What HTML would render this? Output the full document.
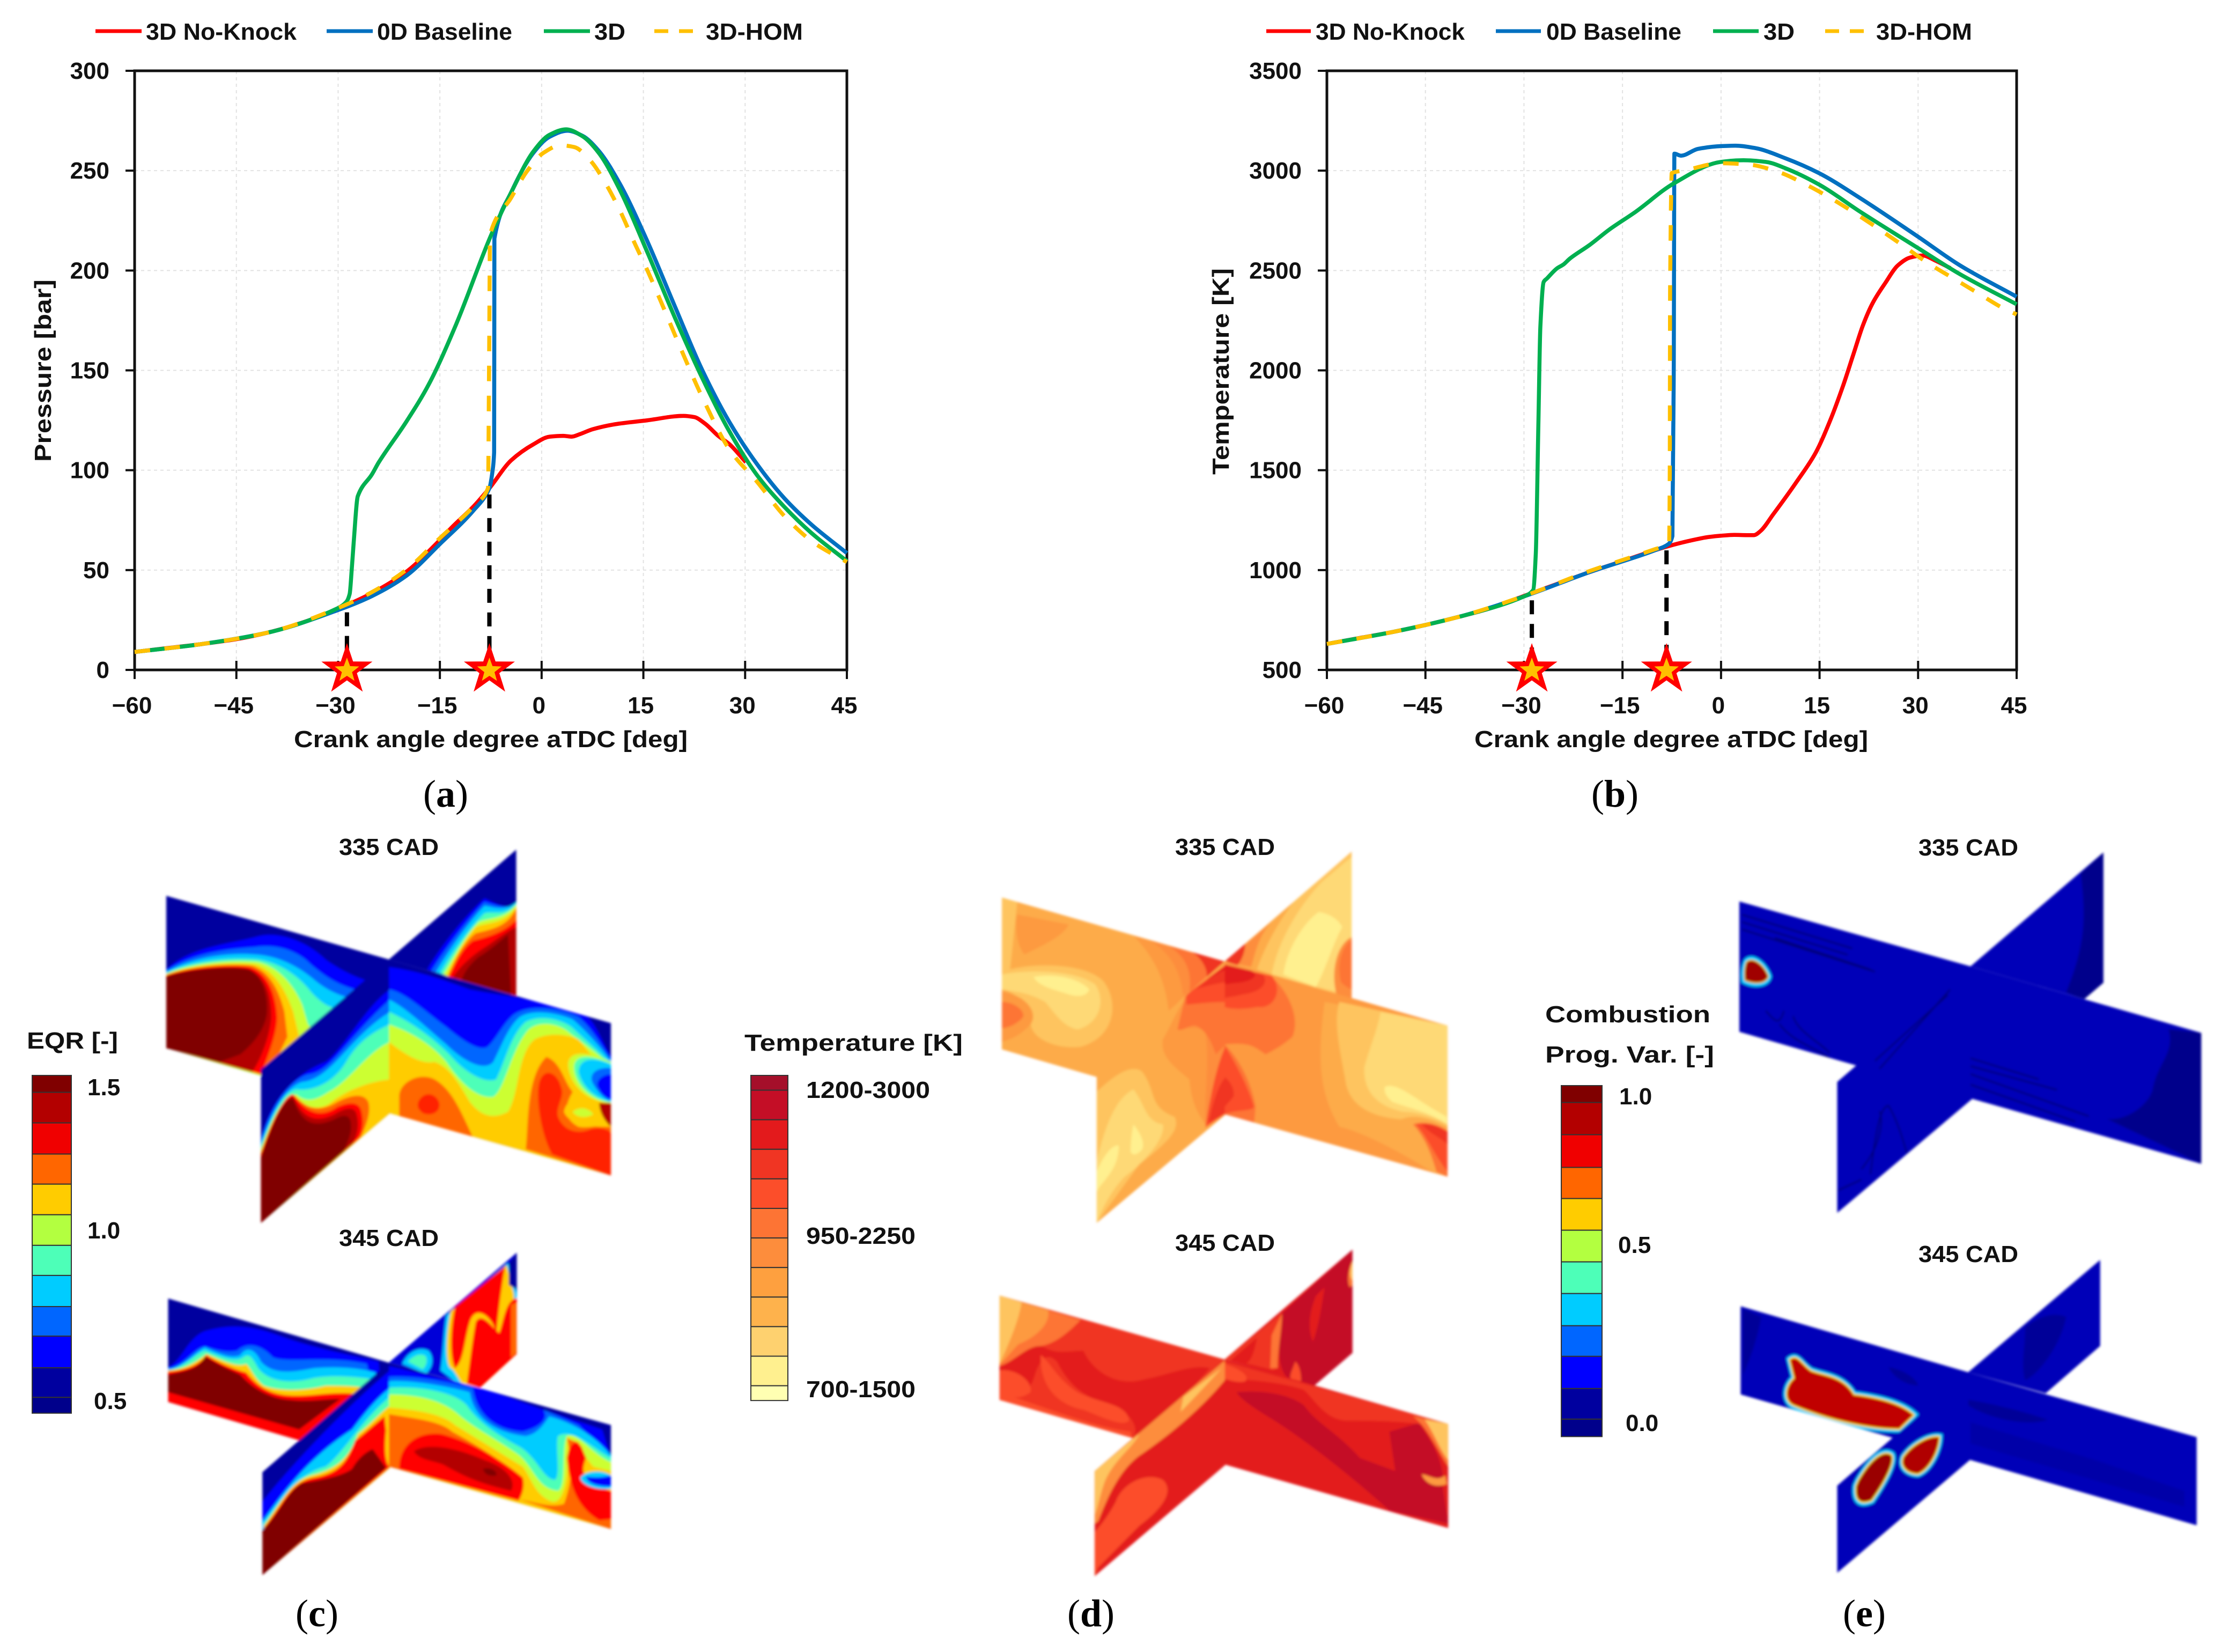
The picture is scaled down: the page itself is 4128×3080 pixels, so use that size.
<!DOCTYPE html>
<html lang="en">
<head>
<meta charset="utf-8">
<title>Pressure and temperature traces with EQR, temperature and progress variable fields</title>
<style>
html,body{margin:0;padding:0;background:#fff;}
svg{display:block;}
text{font-family:"Liberation Sans",sans-serif;font-weight:bold;fill:#111;font-size:44px;}
.cap{font-family:"Liberation Serif",serif;font-size:72px;font-weight:normal;fill:#000;}
.cap tspan{font-weight:bold;}
</style>
</head>
<body>
<svg id="figure" xmlns="http://www.w3.org/2000/svg" width="4128" height="3080" viewBox="0 0 4128 3080">
<defs>
<filter id="soft" filterUnits="userSpaceOnUse" x="0" y="1500" width="4128" height="1580"><feGaussianBlur stdDeviation="2.4"/></filter>
<clipPath id="c1L"><polygon points="18,215 775,470 775,1085 18,825"/></clipPath>
<clipPath id="c1B"><polygon points="775,470 1208,30 1208,615"/></clipPath>
<clipPath id="c1F"><polygon points="340,910 775,470 779,470 779,1085 340,1525"/></clipPath>
<clipPath id="c1R"><polygon points="775,470 1530,725 1530,1335 775,1085"/></clipPath>
<clipPath id="c2L"><polygon points="25,272 775,565 775,1040 25,745"/></clipPath>
<clipPath id="c2B"><polygon points="775,565 1210,62 1210,525 1085,680"/></clipPath>
<clipPath id="c2F"><polygon points="345,1065 775,565 779,565 779,1045 345,1535"/></clipPath>
<clipPath id="c2R"><polygon points="775,565 1530,850 1530,1325 775,1040"/></clipPath>
<clipPath id="d1L"><polygon points="33,222 790,478 790,1090 33,830"/></clipPath>
<clipPath id="d1B"><polygon points="790,478 1222,38 1222,630"/></clipPath>
<clipPath id="d1F"><polygon points="355,930 790,478 794,478 794,1090 355,1525"/></clipPath>
<clipPath id="d1R"><polygon points="790,478 1548,735 1548,1340 790,1090"/></clipPath>
<clipPath id="d2L"><polygon points="25,258 790,550 790,1030 25,735"/></clipPath>
<clipPath id="d2B"><polygon points="790,550 1225,48 1225,520 1095,670"/></clipPath>
<clipPath id="d2F"><polygon points="348,1060 790,550 794,550 794,1030 348,1540"/></clipPath>
<clipPath id="d2R"><polygon points="790,550 1550,845 1550,1320 790,1030"/></clipPath>
<clipPath id="e1L"><polygon points="522,143 1030,266 1030,516 522,390"/></clipPath>
<clipPath id="e1B"><polygon points="1030,266 1322,50 1322,297 1280,328"/></clipPath>
<clipPath id="e1F"><polygon points="737,485 1030,266 1035,266 1035,516 737,733"/></clipPath>
<clipPath id="e1R"><polygon points="1030,266 1537,392 1537,640 1030,516"/></clipPath>
<clipPath id="e2L"><polygon points="525,910 1025,1035 1025,1200 525,1077"/></clipPath>
<clipPath id="e2B"><polygon points="1025,1035 1315,822 1315,985 1195,1075"/></clipPath>
<clipPath id="e2F"><polygon points="737,1250 1025,1035 1030,1035 1030,1200 737,1415"/></clipPath>
<clipPath id="e2R"><polygon points="1025,1035 1527,1158 1527,1325 1025,1200"/></clipPath>
</defs>

<rect width="4128" height="3080" fill="#fff"/>

<!-- Legends -->
<g>
<line x1="178" y1="58" x2="264" y2="58" stroke="#f00" stroke-width="7"/>
<text x="272" y="74" textLength="281" lengthAdjust="spacingAndGlyphs">3D No-Knock</text>
<line x1="609" y1="58" x2="695" y2="58" stroke="#0070c0" stroke-width="7"/>
<text x="703" y="74" textLength="252" lengthAdjust="spacingAndGlyphs">0D Baseline</text>
<line x1="1014" y1="58" x2="1100" y2="58" stroke="#00b050" stroke-width="7"/>
<text x="1108" y="74" textLength="58" lengthAdjust="spacingAndGlyphs">3D</text>
<line x1="1220" y1="58" x2="1306" y2="58" stroke="#ffc000" stroke-width="7" stroke-dasharray="26 20"/>
<text x="1316" y="74" textLength="181" lengthAdjust="spacingAndGlyphs">3D-HOM</text>
</g>
<g>
<line x1="2361" y1="58" x2="2444" y2="58" stroke="#f00" stroke-width="7"/>
<text x="2453" y="74" textLength="278" lengthAdjust="spacingAndGlyphs">3D No-Knock</text>
<line x1="2789" y1="58" x2="2873" y2="58" stroke="#0070c0" stroke-width="7"/>
<text x="2883" y="74" textLength="252" lengthAdjust="spacingAndGlyphs">0D Baseline</text>
<line x1="3194" y1="58" x2="3279" y2="58" stroke="#00b050" stroke-width="7"/>
<text x="3288" y="74" textLength="58" lengthAdjust="spacingAndGlyphs">3D</text>
<line x1="3403" y1="58" x2="3489" y2="58" stroke="#ffc000" stroke-width="7" stroke-dasharray="26 20"/>
<text x="3498" y="74" textLength="179" lengthAdjust="spacingAndGlyphs">3D-HOM</text>
</g>

<g id="chartA"></g>
<g id="chartB"></g>

<text x="548" y="1393" textLength="734" lengthAdjust="spacingAndGlyphs" font-size="46">Crank angle degree aTDC [deg]</text>
<text x="2749" y="1393" textLength="734" lengthAdjust="spacingAndGlyphs" font-size="46">Crank angle degree aTDC [deg]</text>
<text transform="translate(95,861) rotate(-90)" textLength="340" lengthAdjust="spacingAndGlyphs">Pressure [bar]</text>
<text transform="translate(2291,885) rotate(-90)" textLength="385" lengthAdjust="spacingAndGlyphs">Temperature [K]</text>

<text class="cap" x="831" y="1504" text-anchor="middle">(<tspan>a</tspan>)</text>
<text class="cap" x="3011" y="1504" text-anchor="middle">(<tspan>b</tspan>)</text>
<text class="cap" x="591" y="3032" text-anchor="middle">(<tspan>c</tspan>)</text>
<text class="cap" x="2034" y="3032" text-anchor="middle">(<tspan>d</tspan>)</text>
<text class="cap" x="3476" y="3032" text-anchor="middle">(<tspan>e</tspan>)</text>

<!-- Panel titles -->
<text x="725" y="1594" text-anchor="middle" textLength="186" lengthAdjust="spacingAndGlyphs">335 CAD</text>
<text x="725" y="2323" text-anchor="middle" textLength="186" lengthAdjust="spacingAndGlyphs">345 CAD</text>
<text x="2284" y="1594" text-anchor="middle" textLength="186" lengthAdjust="spacingAndGlyphs">335 CAD</text>
<text x="2284" y="2332" text-anchor="middle" textLength="186" lengthAdjust="spacingAndGlyphs">345 CAD</text>
<text x="3670" y="1595" text-anchor="middle" textLength="186" lengthAdjust="spacingAndGlyphs">335 CAD</text>
<text x="3670" y="2353" text-anchor="middle" textLength="186" lengthAdjust="spacingAndGlyphs">345 CAD</text>

<!-- Colorbars -->
<text x="50" y="1955" textLength="170" lengthAdjust="spacingAndGlyphs">EQR [-]</text>
<g id="barC"></g>
<text x="163" y="2042">1.5</text>
<text x="163" y="2309">1.0</text>
<text x="175" y="2627">0.5</text>

<text x="1388" y="1959" textLength="407" lengthAdjust="spacingAndGlyphs" font-size="46">Temperature [K]</text>
<g id="barD"></g>
<text x="1503" y="2047" textLength="231" lengthAdjust="spacingAndGlyphs">1200-3000</text>
<text x="1503" y="2319" textLength="204" lengthAdjust="spacingAndGlyphs">950-2250</text>
<text x="1503" y="2605" textLength="204" lengthAdjust="spacingAndGlyphs">700-1500</text>

<text x="2881" y="1906" textLength="308" lengthAdjust="spacingAndGlyphs" font-size="46">Combustion</text>
<text x="2881" y="1981" textLength="315" lengthAdjust="spacingAndGlyphs" font-size="46">Prog. Var. [-]</text>
<g id="barE"></g>
<text x="3019" y="2059">1.0</text>
<text x="3017" y="2336">0.5</text>
<text x="3031" y="2668">0.0</text>

<g filter="url(#soft)">

<!-- Panel C 335 -->
<g transform="translate(300,1570) scale(.5485,.4656)">
 <g clip-path="url(#c1B)">
  <rect x="770" y="25" width="445" height="600" fill="#00009f"/>
  <path fill="#0000ff" d="M1208,255C1170,270 1130,240 1100,225C1040,290 960,400 905,510L1208,620Z"/>
  <path fill="#0066ff" d="M1208,250C1170,270 1130,250 1100,240C1050,300 970,420 920,515L1208,620Z"/>
  <path fill="#00ccff" d="M1208,240C1170,280 1130,260 1100,255C1050,315 980,430 935,520L1208,620Z"/>
  <path fill="#4dffb8" d="M1208,245C1170,300 1130,275 1100,285C1060,330 990,440 950,525L1208,620Z"/>
  <path fill="#ccff33" d="M1208,250C1170,310 1120,300 1080,320C1040,370 1000,450 960,530L1208,620Z"/>
  <path fill="#ffcc00" d="M1208,258C1170,330 1110,320 1070,340C1030,390 1000,460 970,535L1208,620Z"/>
  <path fill="#ff6600" d="M1208,265C1180,340 1120,350 1070,365C1030,400 1000,470 975,540L1208,620Z"/>
  <path fill="#ff0000" d="M1208,310C1170,360 1110,380 1060,395C1020,430 1000,490 978,540L1208,620Z"/>
  <path fill="#b30000" d="M1208,340C1170,360 1120,410 1090,430C1040,470 1010,510 990,545L1208,620Z"/>
  <path fill="#800000" d="M1180,370C1150,400 1110,440 1080,460C1050,490 1030,520 1020,560L1190,610Z"/>
 </g>
 <g clip-path="url(#c1L)">
  <rect x="10" y="210" width="770" height="880" fill="#00009f"/>
  <path fill="#0000ff" d="M18,510C100,420 220,410 320,380C400,350 500,400 560,470C620,520 680,550 720,560L775,1085L18,825Z"/>
  <path fill="#0066ff" d="M18,515C100,450 200,430 320,420C400,405 470,440 510,490C560,540 600,570 660,590L775,1085L18,825Z"/>
  <path fill="#00ccff" d="M18,520C100,465 220,440 320,450C400,455 470,500 520,550C560,590 600,610 630,620L775,1085L18,825Z"/>
  <path fill="#4dffb8" d="M18,525C100,475 240,460 330,470C410,485 470,540 510,600C540,640 570,660 580,660L775,1085L18,825Z"/>
  <path fill="#ccff33" d="M18,528C100,485 240,470 330,480C400,500 450,570 480,650C490,690 500,730 500,730L775,1085L18,825Z"/>
  <path fill="#ffcc00" d="M18,530C100,490 240,480 320,490C380,510 420,580 450,680L470,780L430,850L340,930L18,825Z"/>
  <path fill="#ff6600" d="M18,532C100,495 240,485 310,495C370,520 400,590 420,680L430,780L380,900L340,930L18,825Z"/>
  <path fill="#ff0000" d="M18,535C100,500 240,490 300,500C360,520 390,600 395,700C395,770 360,870 340,930L18,825Z"/>
  <path fill="#b30000" d="M18,537C100,505 240,495 300,510C360,540 375,620 375,700C370,790 330,890 310,920L18,825Z"/>
  <path fill="#800000" d="M18,540C100,505 240,495 300,510C350,540 365,620 360,690C350,760 310,810 270,850L200,880L18,825Z"/>
 </g>
 <g clip-path="url(#c1F)">
  <rect x="335" y="465" width="450" height="1065" fill="#00009f"/>
  <path fill="#0000ff" d="M340,1190C370,1040 450,930 560,880C620,830 700,650 779,590V1085L340,1525Z"/>
  <path fill="#0066ff" d="M340,1200C370,1060 440,950 500,930C580,920 620,800 779,630V1085L340,1525Z"/>
  <path fill="#00ccff" d="M340,1210C380,1060 430,980 480,960C580,950 640,780 779,680V1085L340,1525Z"/>
  <path fill="#4dffb8" d="M340,1220C385,1070 420,1000 460,990C520,1000 590,960 630,880C670,800 720,760 779,730V1085L340,1525Z"/>
  <path fill="#ccff33" d="M340,1230C385,1080 420,1020 460,1010C490,1040 520,1040 570,1000C640,960 700,840 779,800V1085L340,1525Z"/>
  <path fill="#ffcc00" d="M340,1240C385,1090 420,1030 450,1020C480,1050 520,1080 570,1050C620,1000 700,960 779,950V1085L340,1525Z"/>
  <path fill="#ff6600" d="M340,1245C380,1100 420,1010 455,1015C490,1060 530,1090 600,1040C650,1010 690,1005 705,1040C715,1080 700,1130 680,1180L340,1525Z"/>
  <path fill="#ff0000" d="M340,1250C380,1110 420,1010 450,1010C490,1080 540,1110 600,1060C640,1040 670,1040 680,1070C690,1110 690,1160 670,1190L340,1525Z"/>
  <path fill="#b30000" d="M340,1260C380,1115 420,1020 450,1020C480,1100 520,1130 590,1090C630,1060 660,1060 665,1090C675,1130 670,1170 650,1210L340,1525Z"/>
  <path fill="#800000" d="M340,1270C380,1125 420,1020 450,1030C480,1130 520,1145 590,1110C620,1090 640,1090 645,1120C650,1160 640,1190 620,1240L340,1525Z"/>
 </g>
 <g clip-path="url(#c1R)">
  <rect x="770" y="465" width="765" height="875" fill="#00009f"/>
  <path fill="#0000ff" d="M775,500C900,520 1000,570 1050,590C1180,620 1300,630 1450,700C1480,730 1500,800 1530,860V1335L775,1085Z"/>
  <path fill="#0066ff" d="M775,590C830,600 900,680 970,740C1020,790 1080,840 1110,820C1140,790 1160,730 1200,690C1250,650 1340,660 1420,700C1470,750 1500,820 1530,870V1335L775,1085Z"/>
  <path fill="#00ccff" d="M775,630C830,660 900,740 970,810C1030,880 1100,920 1130,880C1160,810 1180,740 1220,700C1260,670 1340,680 1400,710C1450,760 1500,830 1530,880V1335L775,1085Z"/>
  <path fill="#4dffb8" d="M775,680C850,720 920,780 980,850C1030,920 1100,970 1140,950C1170,880 1190,770 1240,720C1290,690 1360,710 1395,740C1440,790 1490,840 1530,890V1335L775,1085Z"/>
  <path fill="#ccff33" d="M775,730C850,760 920,810 970,880C1010,950 1070,1030 1130,1020C1170,990 1190,830 1250,750C1290,710 1360,730 1390,765C1430,800 1490,850 1530,900V1335L775,1085Z"/>
  <path fill="#ffcc00" d="M775,800C840,860 890,890 930,880C980,900 1010,960 1050,1040C1090,1100 1130,1110 1180,1080C1220,1000 1210,850 1270,790C1320,760 1380,770 1420,790L1530,950V1335L775,1085Z"/>
  <path fill="#ff6600" d="M810,1020C810,960 880,920 930,950C990,990 1020,1080 1060,1180L810,1110Z"/>
  <path fill="#ff6600" d="M1240,1230C1250,1140 1240,940 1310,860C1360,880 1370,960 1400,1000C1370,1060 1370,1110 1420,1140C1470,1150 1530,1120 1530,1120V1335Z"/>
  <path fill="#ff2000" d="M875,1040C890,1000 930,1000 945,1040C955,1080 920,1100 890,1085C875,1070 870,1060 875,1040Z"/>
  <path fill="#ff2000" d="M1330,1250C1290,1170 1270,1000 1290,950C1310,900 1350,930 1360,980C1375,1020 1340,1060 1350,1100C1370,1160 1420,1170 1460,1150C1490,1140 1530,1150 1530,1170V1335Z"/>
  <path fill="#ffcc00" d="M1370,1080C1380,1020 1430,1020 1470,1060C1500,1090 1530,1120 1530,1140C1480,1140 1390,1140 1370,1080Z"/>
  <path fill="#ccff33" d="M1400,1080C1420,1060 1450,1060 1470,1090C1440,1110 1410,1100 1400,1080Z"/>
  <path fill="#ccff33" d="M1530,880C1430,830 1380,840 1385,900C1390,960 1440,1040 1530,1045Z"/>
  <path fill="#4dffb8" d="M1530,885C1440,840 1400,860 1405,910C1410,970 1460,1035 1530,1042Z"/>
  <path fill="#00ccff" d="M1530,890C1450,850 1420,880 1420,920C1430,980 1480,1030 1530,1040Z"/>
  <path fill="#0066ff" d="M1530,905C1480,900 1450,930 1470,970C1490,1010 1510,1030 1530,1035Z"/>
  <path fill="#0000ff" d="M1530,930C1500,930 1470,960 1490,990C1500,1015 1520,1030 1530,1030Z"/>
  <path fill="#b30000" d="M1530,1045L1490,1045C1490,1080 1510,1120 1530,1140Z"/>
 </g>
</g>

<!-- Panel C 345 -->
<g transform="translate(300,2310) scale(.5485,.4082)">
 <g clip-path="url(#c2B)">
  <rect x="770" y="55" width="445" height="640" fill="#0000d8"/>
  <path fill="#00ccff" d="M820,570C840,510 880,490 910,510C930,540 925,590 900,615Z"/>
  <path fill="#4dffb8" d="M840,560C860,530 885,520 900,535C908,560 900,580 890,595Z"/>
  <path fill="#00009f" d="M1180,120L1210,62V235L1180,240Z"/>
  <path fill="#00ccff" d="M970,350L1180,110L1210,250V540L1080,690L1010,660L950,600C960,520 960,430 970,350Z"/>
  <path fill="#ffcc00" d="M985,330L1175,120L1200,250L1210,540L1085,680L1025,660C1010,640 1000,600 985,590C965,570 970,420 985,330Z"/>
  <path fill="#ff0000" d="M1000,310L1170,125C1160,200 1150,300 1140,430C1130,360 1070,290 1050,380C1030,470 1030,560 1000,590C980,540 985,400 1000,310Z"/>
  <path fill="#ff0000" d="M1040,660C1050,560 1060,450 1070,380C1090,330 1125,400 1150,430C1165,380 1170,280 1210,270V525L1085,680Z"/>
  <path fill="#ff6600" d="M1190,300L1210,290V520L1190,540Z"/>
  <path fill="#00009f" d="M1183,118L1210,62V230L1183,210Z"/>
 </g>
 <g clip-path="url(#c2L)">
  <rect x="20" y="265" width="760" height="780" fill="#00009f"/>
  <path fill="#0000ff" d="M25,585C70,560 90,450 150,420C230,390 300,390 400,440C520,500 650,530 740,560L775,1040L25,745Z"/>
  <path fill="#0066ff" d="M25,590C80,580 110,500 150,490C190,510 230,520 260,510C290,470 340,480 380,540C430,570 560,530 700,570L775,1040L25,745Z"/>
  <path fill="#00ccff" d="M25,595C80,585 120,510 150,495C190,520 240,550 270,530C290,490 320,500 340,560C380,620 440,610 520,590C600,580 680,590 730,610L775,1040L25,745Z"/>
  <path fill="#4dffb8" d="M25,598C80,590 120,520 150,510C190,530 250,570 280,540C300,520 310,540 330,590C370,660 450,660 520,635C590,620 660,630 720,640L775,1040L25,745Z"/>
  <path fill="#ffcc00" d="M25,600C90,595 130,550 155,525C200,550 260,590 290,570C305,590 320,640 350,670C410,700 500,690 560,670C610,670 650,670 700,680L775,1040L25,745Z"/>
  <path fill="#ff0000" d="M25,605C90,600 135,570 155,530C200,570 260,600 290,610C320,660 360,710 440,715C510,720 560,700 650,705L775,1040L25,745Z"/>
  <path fill="#800000" d="M25,620C70,605 130,600 150,535C200,580 240,600 270,620C310,680 370,730 440,735C500,745 560,730 610,730L470,870L25,700Z"/>
 </g>
 <g clip-path="url(#c2F)">
  <rect x="340" y="560" width="445" height="980" fill="#00009f"/>
  <path fill="#0000ff" d="M345,1200C400,1100 600,800 779,600V1045L345,1535Z"/>
  <path fill="#00ccff" d="M345,1290C420,1150 500,1000 650,870C700,780 740,720 779,680V1045L345,1535Z"/>
  <path fill="#4dffb8" d="M350,1300C420,1170 470,1070 560,1040C620,980 680,830 779,720V1045L345,1535Z"/>
  <path fill="#ffcc00" d="M350,1310C420,1180 440,1110 510,1080C600,1050 640,1000 670,890C710,850 740,800 779,760V1045L345,1535Z"/>
  <path fill="#ff0000" d="M350,1320C420,1200 440,1110 520,1090C600,1070 630,1030 660,920C690,890 730,840 760,810L779,1040L345,1535Z"/>
  <path fill="#800000" d="M345,1330C400,1260 430,1150 480,1115C550,1100 620,1080 650,1050C670,1000 700,970 720,960L765,1045L345,1535Z"/>
  <path fill="#ffcc00" d="M765,880C760,950 760,1020 779,1045V860Z"/>
 </g>
 <g clip-path="url(#c2R)">
  <rect x="770" y="560" width="765" height="770" fill="#00009f"/>
  <path fill="#0000ff" d="M775,580L1090,680L1300,780L1500,870L1530,1000V1325L775,1040Z"/>
  <path fill="#0066ff" d="M775,630C860,620 1000,660 1060,680C1070,780 1120,870 1230,880C1290,860 1320,820 1300,780L1420,850L1530,1000V1325L775,1040Z"/>
  <path fill="#00ccff" d="M775,650C850,640 1000,680 1050,700C1060,790 1110,880 1240,900C1280,890 1300,850 1320,810C1400,840 1480,900 1530,990V1325L775,1040Z"/>
  <path fill="#4dffb8" d="M775,680C880,670 1000,700 1040,760C1080,840 1150,900 1220,950C1280,1000 1300,1100 1340,1100C1360,1080 1340,950 1350,900C1400,860 1470,960 1530,1000V1325L775,1040Z"/>
  <path fill="#ccff33" d="M775,710C880,710 960,740 1010,800C1060,860 1160,930 1220,990C1270,1050 1280,1140 1350,1150C1380,1130 1360,960 1380,900C1420,880 1460,980 1530,1020V1325L775,1040Z"/>
  <path fill="#ffcc00" d="M775,770C870,780 960,800 1000,850C1060,900 1170,990 1230,1040C1260,1090 1270,1170 1330,1200C1380,1210 1390,1020 1380,900L1440,990L1470,1040L1530,1060V1325L775,1040Z"/>
  <path fill="#ff6600" d="M775,800C860,820 950,830 990,880C1060,930 1170,1020 1225,1090C1240,1140 1220,1190 1215,1195L775,1040Z"/>
  <path fill="#ff6600" d="M1220,1190C1270,1200 1320,1230 1370,1210C1400,1100 1400,1010 1380,910L1420,930L1440,1000C1430,1060 1430,1120 1530,1150V1325Z"/>
  <path fill="#ff0000" d="M810,1050C810,940 870,880 950,890C1050,920 1170,1020 1230,1090C1240,1140 1220,1190 1215,1195Z"/>
  <path fill="#ff0000" d="M1380,1000C1390,930 1410,910 1430,950L1445,1000C1430,1060 1420,1110 1530,1150V1280L1490,1285C1420,1230 1390,1140 1380,1000Z"/>
  <path fill="#b30000" d="M860,970C900,930 1000,950 1100,1010C1170,1040 1210,1100 1190,1150C1100,1120 1050,1100 960,1030C920,1010 880,1010 860,970Z"/>
  <path fill="#800000" d="M1095,1050C1120,1040 1145,1060 1140,1080C1115,1085 1100,1075 1095,1050Z"/>
  <path fill="#00ccff" d="M1425,1090C1440,1060 1500,1050 1530,1080V1140C1490,1150 1430,1130 1425,1090Z"/>
  <path fill="#0000ff" d="M1445,1085C1470,1090 1500,1090 1530,1080V1130C1490,1130 1450,1120 1445,1085Z"/>
 </g>
</g>

<!-- Panel D 335 -->
<g transform="translate(1850,1570) scale(.5485,.4656)">
 <g clip-path="url(#d1B)">
  <rect x="785" y="30" width="445" height="605" fill="#fdab4a"/>
  <path fill="#fec45f" d="M1222,40L1030,230C960,340 920,440 900,510L1222,630Z"/>
  <path fill="#fed976" d="M1200,80L1120,160C1040,260 970,400 950,530L1170,600L1222,400V60Z"/>
  <path fill="#fff08f" d="M1110,280C1160,290 1180,320 1190,340C1160,400 1130,520 1100,580L990,530C1000,430 1060,320 1110,280Z"/>
  <path fill="#fd8d3c" d="M1222,380C1170,410 1150,520 1170,610L1222,630Z"/>
  <path fill="#fd7434" d="M1222,390C1190,420 1170,480 1185,560C1200,580 1222,590 1222,590Z"/>
  <path fill="#fd8d3c" d="M790,478L950,320C900,380 890,470 880,500L790,478Z"/>
  <path fill="#f03523" d="M790,475L860,405C860,450 840,490 830,495Z"/>
 </g>
 <g clip-path="url(#d1L)">
  <rect x="25" y="215" width="770" height="880" fill="#fdab4a"/>
  <path fill="#fec45f" d="M33,222L85,240L60,520L33,520Z"/>
  <path fill="#fd9a40" d="M85,290L260,330C240,380 160,420 110,450C85,420 75,340 85,290Z"/>
  <path fill="#fec45f" d="M33,520C120,480 320,480 380,560C430,640 420,780 300,820C220,830 130,790 130,720C130,660 80,600 33,590Z"/>
  <path fill="#fed976" d="M33,530C120,510 280,510 350,570C390,640 360,730 290,750C240,740 210,680 180,640C120,600 80,600 33,590Z"/>
  <path fill="#fff08f" d="M140,540C200,525 290,540 330,590C320,620 290,620 260,610C210,590 160,580 140,540Z"/>
  <path fill="#fd9a40" d="M33,600C110,610 160,680 130,730C90,780 60,790 33,800Z"/>
  <path fill="#fd7434" d="M33,640C70,640 110,670 105,700C85,730 50,745 33,745Z"/>
  <path fill="#fd9a40" d="M480,375L790,478L650,620L600,680C590,570 560,470 480,375Z"/>
  <path fill="#fd8d3c" d="M540,395L790,478L650,620C640,530 620,460 540,395Z"/>
  <path fill="#fd7434" d="M600,415L790,478L670,600C680,520 660,460 600,415Z"/>
  <path fill="#f03523" d="M680,440L790,478L730,540C730,500 710,465 680,440Z"/>
 </g>
 <g clip-path="url(#d1F)">
  <rect x="350" y="470" width="450" height="1060" fill="#fdab4a"/>
  <path fill="#fec45f" d="M355,1000C400,950 470,880 510,920C560,1000 530,1060 620,1100C640,1150 600,1200 500,1290L355,1525Z"/>
  <path fill="#fed976" d="M355,1280C390,1100 430,1020 480,990C520,1050 520,1120 580,1130C590,1180 530,1270 450,1340C410,1390 380,1450 355,1525Z"/>
  <path fill="#fff08f" d="M355,1320C380,1250 410,1210 430,1215C430,1290 400,1330 365,1380L355,1400Z"/>
  <path fill="#fff08f" d="M480,1130C500,1160 520,1200 510,1230C495,1250 480,1260 470,1240C470,1200 475,1160 480,1130Z"/>
  <path fill="#fd9a40" d="M580,790C610,730 620,690 650,640L794,490V1090L730,1140C710,1100 680,1070 670,950C620,900 570,860 580,790Z"/>
  <path fill="#fd8d3c" d="M630,750C640,690 650,640 660,615L794,490V1090L725,1145C720,1000 740,900 725,760C700,730 650,750 630,750Z"/>
  <path fill="#fd7434" d="M655,620L794,490V810L760,850C745,800 730,760 700,740C680,720 650,760 630,750C640,700 650,650 655,620Z"/>
  <path fill="#fc4e2a" d="M660,610L794,490V640C730,640 680,650 660,650Z"/>
  <path fill="#f03523" d="M690,590L794,495V560C750,570 710,580 690,590Z"/>
  <path fill="#e31a1c" d="M730,550L794,495V510C770,520 750,540 730,550Z"/>
  <path fill="#fc4e2a" d="M725,1140C740,1030 760,900 794,815V1085Z"/>
  <path fill="#f03523" d="M735,1125C750,1040 770,970 794,940V1085Z"/>
 </g>
 <g clip-path="url(#d1R)">
  <rect x="785" y="470" width="770" height="875" fill="#fd9a40"/>
  <path fill="#fd7434" d="M790,500L950,540C1000,590 1050,700 1020,780C980,820 960,830 930,850C890,820 880,800 790,810Z"/>
  <path fill="#fc4e2a" d="M790,495L950,535C990,590 960,670 900,660C860,670 810,670 790,660Z"/>
  <path fill="#f03523" d="M790,492L920,530C940,560 920,600 850,610C820,620 800,620 790,625Z"/>
  <path fill="#e31a1c" d="M790,490L880,515C910,530 890,560 820,565L790,570Z"/>
  <path fill="#fd7434" d="M790,810C840,870 880,960 895,1060L890,1130L790,1090Z"/>
  <path fill="#fc4e2a" d="M790,815C830,890 870,980 890,1060C880,1080 830,1070 790,1090Z"/>
  <path fill="#f03523" d="M790,940C810,960 825,990 820,1020L790,1060Z"/>
  <path fill="#fdab4a" d="M1130,640L1548,735V1340L1480,1310C1400,1250 1260,1160 1180,1140C1120,1020 1100,900 1130,640Z"/>
  <path fill="#fec45f" d="M1180,640L1548,735V1140C1480,1100 1430,1090 1390,1110C1280,1100 1210,1050 1200,950C1180,820 1160,720 1180,640Z"/>
  <path fill="#fed976" d="M1320,680L1548,735V1130C1500,1100 1440,1080 1400,1080C1310,1060 1260,1000 1265,900C1290,800 1310,750 1320,680Z"/>
  <path fill="#fff08f" d="M1335,980C1370,960 1430,1020 1500,1070L1545,1100V1130C1490,1080 1400,1060 1360,1040C1340,1020 1330,1000 1335,980Z"/>
  <path fill="#fd7434" d="M1430,1130C1480,1110 1530,1140 1548,1155V1340L1510,1320C1490,1240 1470,1180 1430,1130Z"/>
  <path fill="#fc4e2a" d="M1440,1130C1480,1120 1520,1140 1548,1160V1320C1500,1250 1480,1180 1440,1130Z"/>
  <path fill="#f03523" d="M1460,1130C1490,1125 1520,1140 1548,1160V1210C1520,1180 1490,1170 1460,1130Z"/>
 </g>
</g>

<!-- Panel D 345 -->
<g transform="translate(1850,2310) scale(.5485,.4082)">
 <g clip-path="url(#d2B)">
  <rect x="785" y="40" width="445" height="640" fill="#e31a1c"/>
  <path fill="#c40e26" d="M985,340L1225,48V520L1095,670L1000,630C960,560 980,430 985,340Z"/>
  <path fill="#e31a1c" d="M1100,260L1130,220C1120,300 1110,400 1090,470C1070,400 1080,330 1100,260Z"/>
  <path fill="#fc4e2a" d="M1030,560C1020,600 1010,620 1015,640L1050,650C1050,600 1040,570 1030,560Z"/>
  <path fill="#fd7434" d="M1225,100C1210,140 1205,190 1215,220L1225,210Z"/>
  <path fill="#fec45f" d="M1225,100C1215,140 1212,170 1225,190Z"/>
  <path fill="#f03523" d="M790,550L985,340C970,430 950,520 960,600L870,570Z"/>
  <path fill="#fd7434" d="M950,440L985,340C985,420 970,500 970,590L945,590Z"/>
  <path fill="#e31a1c" d="M810,555L900,450C890,520 880,560 860,570Z"/>
 </g>
 <g clip-path="url(#d2L)">
  <rect x="20" y="250" width="775" height="790" fill="#f03523"/>
  <path fill="#fd7434" d="M25,258L300,370C250,440 200,490 150,490C100,510 60,570 25,580Z"/>
  <path fill="#fd9a40" d="M25,258L190,325C200,400 130,460 90,480C60,520 40,560 25,570Z"/>
  <path fill="#fec45f" d="M25,258L100,290C90,370 60,470 25,570Z"/>
  <path fill="#e31a1c" d="M25,580C80,560 120,480 170,490C220,530 260,510 310,510C340,600 420,680 520,640C600,620 680,570 740,590L600,800L480,900C500,860 470,790 400,760C320,720 270,690 220,560C190,520 170,540 150,600C130,680 130,720 25,680Z"/>
  <path fill="#fc4e2a" d="M165,530C190,550 220,640 290,700C360,750 460,750 465,830C440,860 370,810 310,780C230,760 160,680 165,530Z"/>
  <path fill="#fc4e2a" d="M25,600C80,590 140,650 130,700C90,740 60,720 25,700Z"/>
  <path fill="#fc4e2a" d="M25,735L475,910L470,880C350,860 180,770 25,700Z"/>
  <path fill="#f03523" d="M350,490C430,460 500,540 560,560C520,600 400,600 350,490Z"/>
 </g>
 <g clip-path="url(#d2F)">
  <rect x="340" y="545" width="460" height="1000" fill="#e31a1c"/>
  <path fill="#fd8d3c" d="M348,1060L794,550V640C720,760 620,880 500,990C440,1050 400,1150 360,1290L348,1300Z"/>
  <path fill="#fec45f" d="M348,1060L500,890C480,950 420,1000 385,1100C370,1150 360,1220 350,1260Z"/>
  <path fill="#fec45f" d="M650,720L780,590C740,650 690,720 640,790Z"/>
  <path fill="#fc4e2a" d="M420,1200C440,1120 520,1060 580,1100C620,1150 580,1230 500,1310L360,1500L348,1540V1340C380,1290 400,1250 420,1200Z"/>
 </g>
 <g clip-path="url(#d2R)">
  <rect x="785" y="545" width="770" height="780" fill="#e31a1c"/>
  <path fill="#c40e26" d="M830,700C900,690 1000,700 1060,760C1100,840 1170,880 1250,1000L1370,1060L1350,880L1450,840C1510,950 1540,1050 1530,1120L1550,1300L1350,1240C1260,1130 1100,950 960,830C900,780 850,740 830,700Z"/>
  <path fill="#f03523" d="M790,560L1550,845V870C1450,830 1300,830 1200,830C1130,820 1100,740 1060,690C980,650 850,640 790,640Z"/>
  <path fill="#fc4e2a" d="M790,570C830,590 880,620 860,650C830,660 800,640 790,640Z"/>
  <path fill="#fd7434" d="M1430,810L1550,845V1040C1510,960 1480,860 1430,810Z"/>
  <path fill="#fec45f" d="M1470,825L1550,845V1010C1520,960 1500,880 1470,825Z"/>
  <path fill="#fd9a40" d="M1460,1075C1490,1080 1510,1110 1540,1080L1545,1120C1500,1140 1470,1110 1460,1075Z"/>
 </g>
</g>

<!-- Panel E -->
<g transform="translate(2800,1540) scale(.8486,.984)">
 <g clip-path="url(#e1B)">
  <rect x="1025" y="45" width="300" height="290" fill="#0000b8"/>
  <path fill="#00008b" d="M1322,50L1272,90C1285,180 1280,230 1240,315L1280,330L1322,297Z"/>
 </g>
 <g clip-path="url(#e1L)">
  <rect x="518" y="138" width="515" height="385" fill="#0000b8"/>
  <g fill="none" stroke="#000078" stroke-width="3">
   <path d="M528,168L770,232"/><path d="M528,182L760,244"/><path d="M528,196L820,276"/>
   <path d="M600,212L810,272"/><path d="M580,350C600,370 610,380 620,350"/><path d="M640,360C650,390 700,410 720,430"/>
   <path d="M610,375C640,410 690,420 720,440"/>
  </g>
  <path fill="#c00000" stroke="#00ccff" stroke-width="6" d="M535,255C550,240 580,260 590,285C585,305 550,305 530,295C528,280 530,265 535,255Z"/>
  <path fill="#a00000" stroke="#ffe000" stroke-width="2" d="M537,258C550,246 577,262 586,285C580,300 552,300 534,292C532,278 533,268 537,258Z"/>
 </g>
 <g clip-path="url(#e1F)">
  <rect x="733" y="262" width="305" height="475" fill="#0000b8"/>
  <g fill="none" stroke="#000078" stroke-width="3">
   <path d="M830,460L985,310"/><path d="M820,445L980,320"/><path d="M810,660C820,590 830,530 850,530C870,560 880,590 890,620"/>
   <path d="M790,650C830,610 840,560 830,540"/><path d="M740,690L790,670"/>
  </g>
 </g>
 <g clip-path="url(#e1R)">
  <rect x="1025" y="262" width="515" height="385" fill="#0000b8"/>
  <path fill="#00008b" d="M1537,392L1465,385C1480,430 1440,450 1430,500C1420,530 1370,560 1330,555L1537,640Z"/>
  <g fill="none" stroke="#000078" stroke-width="3">
   <path d="M925,540L1030,440L1180,480"/><path d="M1030,455L1220,500"/><path d="M1030,470L1290,550"/>
   <path d="M1030,490L1260,560"/>
  </g>
 </g>

 <g clip-path="url(#e2B)">
  <rect x="1020" y="818" width="300" height="262" fill="#0000b8"/>
  <path fill="#000098" d="M1150,950C1180,930 1210,920 1240,930C1230,980 1180,1040 1150,1050C1140,1020 1150,990 1150,950Z"/>
 </g>
 <g clip-path="url(#e2L)">
  <rect x="520" y="905" width="510" height="300" fill="#0000b8"/>
  <path fill="#000098" d="M850,1025C880,1030 910,1045 915,1060C890,1060 860,1045 850,1025Z"/>
  <path fill="#000098" d="M530,915L570,930C560,980 540,1020 530,1040Z"/>
  <path fill="#c00000" stroke="#00ccff" stroke-width="8" d="M630,1010C650,995 660,1020 680,1030C710,1040 750,1040 775,1075C820,1080 880,1090 910,1115L875,1145C800,1145 710,1125 640,1100C615,1090 620,1060 640,1045Z"/>
  <path fill="#c00000" stroke="#ffe000" stroke-width="3" d="M632,1011C650,998 660,1021 680,1032C710,1042 750,1042 774,1077C820,1082 877,1092 906,1116L874,1143C800,1143 711,1123 641,1098C618,1089 622,1061 642,1046Z"/>
 </g>
 <g clip-path="url(#e2F)">
  <rect x="733" y="1030" width="302" height="390" fill="#0000b8"/>
  <path fill="#c00000" stroke="#00ccff" stroke-width="7" d="M780,1240C810,1195 840,1175 860,1190C870,1210 830,1260 815,1280C790,1290 770,1285 775,1250Z"/>
  <path fill="#9a0000" stroke="#ffe000" stroke-width="3" d="M783,1240C811,1198 840,1180 857,1192C866,1210 829,1259 813,1278C791,1286 774,1282 778,1250Z"/>
  <path fill="#c00000" stroke="#00ccff" stroke-width="7" d="M880,1195C900,1170 940,1150 965,1155C965,1180 945,1220 915,1230C890,1230 870,1215 880,1195Z"/>
  <path fill="#b00000" stroke="#ffe000" stroke-width="3" d="M882,1195C901,1172 939,1153 962,1157C962,1180 943,1218 915,1228C891,1228 873,1214 882,1195Z"/>
 </g>
 <g clip-path="url(#e2R)">
  <rect x="1020" y="1030" width="512" height="300" fill="#0000b8"/>
  <path fill="#000098" d="M1005,1085C1060,1090 1150,1110 1200,1125C1150,1140 1050,1120 1005,1085Z"/>
  <path fill="#0000a8" d="M1030,1130L1300,1200L1500,1260L1500,1290L1030,1170Z"/>
 </g>
</g>
</g>

<script>
const xTickValues = [-60, -45, -30, -15, 0, 15, 30, 45];
const pressureTickValues = [0, 50, 100, 150, 200, 250, 300];
const temperatureTickValues = [500, 1000, 1500, 2000, 2500, 3000, 3500];

const pressureNoKnockDeg = [-60,-55,-50,-45,-40,-35,-30,-25,-20,-15,-13.2,-10,-7.7,-4.5,-1.2,1.2,3.2,4.4,5.6,7.6,10.8,15.6,20.9,22.5,24.1,26.1,27.7,30.1];
const pressureNoKnock = [9,11,13,15.4,19,24,30.6,38.5,49,65,71.5,82,91,104.9,113,116.8,117.2,116.8,118,120.6,123,125,127.2,126.6,123.3,117,113,104];
const pressureBaselineDeg = [-60,-50,-40,-30,-25,-20,-15,-10,-7.7,-7.24,-7.0,-6.96,-4.5,-1.2,1.2,3.8,6,8.4,11.6,15.6,19.7,23.7,27.7,31.8,35.8,39.8,45];
const pressureBaseline = [9,13,19,30,37,47,63,80,91,99.5,109,216,239,259,267,270,267.5,260,243,214.5,181.6,150,124,102.8,85.9,72.7,58.5];
const pressure3dDeg = [-60,-50,-40,-30,-28.8,-28.3,-28,-27.7,-27.1,-25,-24,-20,-16.6,-12.56,-7.5,-4.5,-1.2,1.2,3.6,6,8.4,11.6,15.6,19.7,23.7,27.7,31.8,35.8,39.8,45];
const pressure3d = [9,13,19,31,34,38,50,64,87,98,104,124,143.2,173.4,217.3,239,259.7,268,270.7,267.3,259,239.9,209,176,146,119.3,97.3,81.6,68.5,54.5];
const pressureHomDeg = [-60,-50,-40,-30,-25,-20,-15,-10,-7.9,-7.75,-7.6,-4.5,-2.1,0.3,2.8,4.8,7.2,9.6,11.6,13.6,15.6,17.6,20.5,23.7,27.7,31.8,35.8,40,45];
const pressureHom = [9,13,19,31,39,50,66,82,91,150,218,236.4,250,259,262.7,261.8,255,242.6,229.6,214.5,200,184.3,161,136.4,110.3,94,77,64,54];
const pressureEventDeg = [-28.7, -7.7];
const pressureEventValue = [31, 90];

const temperatureNoKnockDeg = [-60,-55,-50,-45,-40,-35,-30,-25,-20,-15,-10,-8,-5,-2,0,2,4,5,6,7.9,11.4,14.4,16.7,18.6,20.1,21.6,23.1,25,26.9,28.8,30.7,32.6,34.9];
const temperatureNoKnock = [630,660,690,725,765,810,870,930,990,1045,1100,1120,1145,1165,1172,1176,1175,1175,1195,1277,1437,1587,1756,1925,2075,2225,2338,2437,2525,2565,2575,2550,2512];
const temperatureBaselineDeg = [-60,-50,-40,-30,-20,-10,-8,-7.4,-7.2,-7.1,-6.1,-3.5,0,2.2,5.2,9.8,14.9,21.2,30,36.4,45];
const temperatureBaseline = [630,690,765,868,990,1100,1130,1170,2000,3085,3075,3109,3123,3125,3113,3062,2988,2862,2669,2525,2369];
const temperature3dDeg = [-60,-50,-40,-30,-28.6,-28.2,-27.8,-27.5,-27,-26.5,-25,-24,-23,-20,-17,-13,-7.1,0,3.4,6.8,9.8,14.9,21.2,30,36.4,45];
const temperature3d = [630,690,765,868,900,1083,1744,2219,2443,2460,2510,2530,2560,2628,2705,2794,2938,3044,3052,3044,3012,2931,2794,2612,2481,2331];
const temperatureHomDeg = [-60,-50,-40,-30,-20,-10,-7.9,-7.8,-7.75,-7.5,-5.4,-0.1,4.1,8.7,12.9,16.7,20.5,27.7,31.5,35.3,39.1,42.9,45];
const temperatureHom = [630,690,765,870,995,1105,1130,1500,2400,2988,3002,3037,3031,2994,2931,2862,2785,2625,2537,2462,2387,2312,2280];
const temperatureEventDeg = [-28.8, -8.3];
const temperatureEventValue = [870, 1120];

const eqrLevelColors = ['#800000','#b30000','#f00000','#ff6600','#ffcc00','#b3ff40','#4dffb8','#00ccff','#0066ff','#0000ff','#00009f','#00008b'];
const eqrLevelHeights = [32,58,59,57,58,58,57,59,56,60,56,30];
const temperatureLevelColors = ['#a50f2a','#c40e26','#e31a1c','#f03523','#fc4e2a','#fd7434','#fd8d3c','#fea03f','#feb24c','#fed16f','#fff08f','#ffffb2'];
const temperatureLevelHeights = [28,56,56,56,56,56,56,56,56,56,56,28];
const progressLevelColors = ['#800000','#b30000','#f00000','#ff6600','#ffcc00','#b3ff40','#4dffb8','#00ccff','#0066ff','#0000ff','#00009f','#00008b'];
const progressLevelHeights = [32,61,62,59,60,60,60,61,58,61,58,33];

const SVGNS = 'http://www.w3.org/2000/svg';

function make(tag, parent) {
  const el = document.createElementNS(SVGNS, tag);
  parent.appendChild(el);
  return el;
}

function curvePath(xs, ys) {
  const n = xs.length;
  const slopes = [];
  for (let i = 0; i < n - 1; i++) slopes.push((ys[i + 1] - ys[i]) / (xs[i + 1] - xs[i]));
  const tangents = [slopes[0]];
  for (let i = 1; i < n - 1; i++) {
    const a = slopes[i - 1], b = slopes[i];
    tangents.push(a * b <= 0 ? 0 : 2 * a * b / (a + b));
  }
  tangents.push(slopes[n - 2]);
  let d = 'M' + xs[0].toFixed(1) + ',' + ys[0].toFixed(1);
  for (let i = 0; i < n - 1; i++) {
    const h = (xs[i + 1] - xs[i]) / 3;
    d += 'C' + (xs[i] + h).toFixed(1) + ',' + (ys[i] + tangents[i] * h).toFixed(1) + ' ' +
         (xs[i + 1] - h).toFixed(1) + ',' + (ys[i + 1] - tangents[i + 1] * h).toFixed(1) + ' ' +
         xs[i + 1].toFixed(1) + ',' + ys[i + 1].toFixed(1);
  }
  return d;
}

function starPoints(cx, cy, outer, inner) {
  const pts = [];
  for (let i = 0; i < 10; i++) {
    const r = i % 2 ? inner : outer;
    const a = -Math.PI / 2 + i * Math.PI / 5;
    pts.push((cx + r * Math.cos(a)).toFixed(1) + ',' + (cy + r * Math.sin(a)).toFixed(1));
  }
  return pts.join(' ');
}

function drawChart(root, box, yTicks, series, eventDeg, eventValue) {
  const xMin = xTickValues[0], xMax = xTickValues[xTickValues.length - 1];
  const yMin = yTicks[0], yMax = yTicks[yTicks.length - 1];
  const xScale = v => box.left + (v - xMin) / (xMax - xMin) * (box.right - box.left);
  const yScale = v => box.bottom - (v - yMin) / (yMax - yMin) * (box.bottom - box.top);

  xTickValues.forEach(v => {
    const grid = make('line', root);
    
    
    grid.setAttribute('x1', xScale(v)); grid.setAttribute('x2', xScale(v));
    grid.setAttribute('y1', box.top); grid.setAttribute('y2', box.bottom);
    grid.setAttribute('stroke', '#e2e2e2'); grid.setAttribute('stroke-width', 2);
    grid.setAttribute('stroke-dasharray', '6 6');
  });
  yTicks.forEach(v => {
    const grid = make('line', root);
    
    
    grid.setAttribute('x1', box.left); grid.setAttribute('x2', box.right);
    grid.setAttribute('y1', yScale(v)); grid.setAttribute('y2', yScale(v));
    grid.setAttribute('stroke', '#e2e2e2'); grid.setAttribute('stroke-width', 2);
    grid.setAttribute('stroke-dasharray', '6 6');
  });

  const frame = make('rect', root);
  
  
  frame.setAttribute('x', box.left); frame.setAttribute('y', box.top);
  frame.setAttribute('width', box.right - box.left); frame.setAttribute('height', box.bottom - box.top);
  frame.setAttribute('fill', 'none'); frame.setAttribute('stroke', '#111'); frame.setAttribute('stroke-width', 5);

  xTickValues.forEach(v => {
    const tick = make('line', root);
    
    
    tick.setAttribute('x1', xScale(v)); tick.setAttribute('x2', xScale(v));
    tick.setAttribute('y1', box.bottom - 17); tick.setAttribute('y2', box.bottom + 17);
    tick.setAttribute('stroke', '#111'); tick.setAttribute('stroke-width', 4);
    const label = make('text', root);
    
    
    label.setAttribute('x', xScale(v) - 5); label.setAttribute('y', box.bottom + 81);
    label.setAttribute('text-anchor', 'middle');
    label.textContent = String(v).replace('-', '\u2212');
  });
  yTicks.forEach(v => {
    const tick = make('line', root);
    
    
    tick.setAttribute('x1', box.left - 17); tick.setAttribute('x2', box.left);
    tick.setAttribute('y1', yScale(v)); tick.setAttribute('y2', yScale(v));
    tick.setAttribute('stroke', '#111'); tick.setAttribute('stroke-width', 4);
    const label = make('text', root);
    
    
    label.setAttribute('x', box.left - 47); label.setAttribute('y', yScale(v) + 15);
    label.setAttribute('text-anchor', 'end');
    label.textContent = v;
  });

  series.forEach(s => {
    const path = make('path', root);
    
    
    path.setAttribute('d', curvePath(s.deg.map(xScale), s.values.map(yScale)));
    path.setAttribute('fill', 'none'); path.setAttribute('stroke', s.color);
    path.setAttribute('stroke-width', 7.5);
    if (s.dash) path.setAttribute('stroke-dasharray', s.dash);
  });

  eventDeg.forEach((deg, i) => {
    const drop = make('line', root);
    
    
    drop.setAttribute('x1', xScale(deg)); drop.setAttribute('x2', xScale(deg));
    drop.setAttribute('y1', yScale(eventValue[i]) + 8); drop.setAttribute('y2', box.bottom - 30);
    drop.setAttribute('stroke', '#000'); drop.setAttribute('stroke-width', 8);
    drop.setAttribute('stroke-dasharray', '26 18');
    const star = make('polygon', root);
    
    
    star.setAttribute('points', starPoints(xScale(deg), box.bottom, 50, 19.5));
    star.setAttribute('fill', '#ff0000');
    const inner = make('polygon', root);
    
    
    inner.setAttribute('points', starPoints(xScale(deg), box.bottom + 1, 24, 10));
    inner.setAttribute('fill', '#ffc000');
  });
}

function drawColorbar(root, x, y, w, colors, heights) {
  let top = y;
  colors.forEach((c, i) => {
    const h = heights[i] * 0.984;
    const seg = make('rect', root);
    
    
    seg.setAttribute('x', x); seg.setAttribute('y', top);
    seg.setAttribute('width', w); seg.setAttribute('height', h);
    seg.setAttribute('fill', c);
    seg.setAttribute('stroke', '#333'); seg.setAttribute('stroke-width', 2);
    top += h;
  });
}

drawChart(document.getElementById('chartA'), {left: 251, right: 1579, top: 132, bottom: 1249}, pressureTickValues, [
  {name: 'series-3d-no-knock', deg: pressureNoKnockDeg, values: pressureNoKnock, color: '#ff0000'},
  {name: 'series-0d-baseline', deg: pressureBaselineDeg, values: pressureBaseline, color: '#0070c0'},
  {name: 'series-3d', deg: pressure3dDeg, values: pressure3d, color: '#00b050'},
  {name: 'series-3d-hom', deg: pressureHomDeg, values: pressureHom, color: '#ffc000', dash: '29 27'}
], pressureEventDeg, pressureEventValue);

drawChart(document.getElementById('chartB'), {left: 2474, right: 3760, top: 132, bottom: 1249}, temperatureTickValues, [
  {name: 'series-3d-no-knock', deg: temperatureNoKnockDeg, values: temperatureNoKnock, color: '#ff0000'},
  {name: 'series-0d-baseline', deg: temperatureBaselineDeg, values: temperatureBaseline, color: '#0070c0'},
  {name: 'series-3d', deg: temperature3dDeg, values: temperature3d, color: '#00b050'},
  {name: 'series-3d-hom', deg: temperatureHomDeg, values: temperatureHom, color: '#ffc000', dash: '29 27'}
], temperatureEventDeg, temperatureEventValue);

drawColorbar(document.getElementById('barC'), 60, 2005, 73, eqrLevelColors, eqrLevelHeights);
drawColorbar(document.getElementById('barD'), 1400, 2005, 69, temperatureLevelColors, temperatureLevelHeights);
drawColorbar(document.getElementById('barE'), 2911, 2024, 76, progressLevelColors, progressLevelHeights);
</script>
</svg>
</body>
</html>
